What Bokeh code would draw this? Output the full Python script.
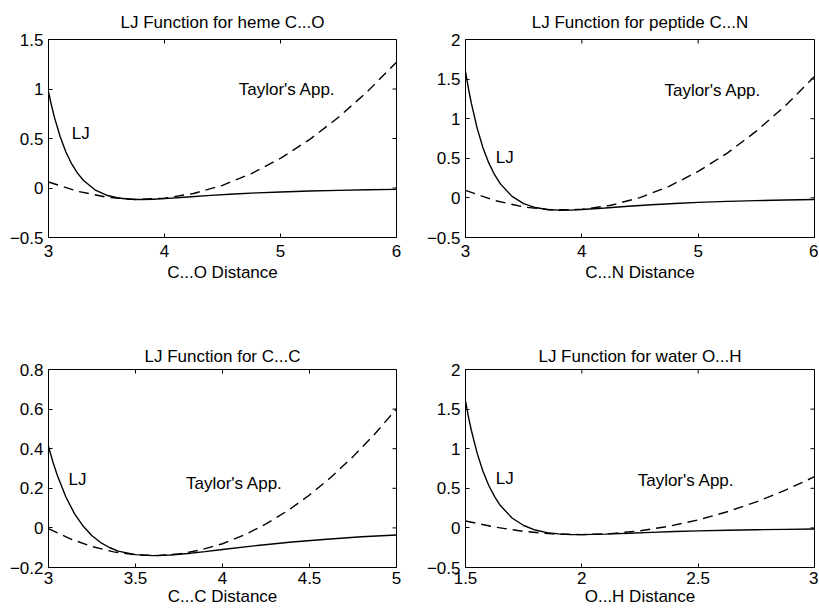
import math
from bokeh.plotting import figure
from bokeh.layouts import column, row
from bokeh.models import Range1d, FixedTicker
from bokeh.core.properties import value
from bokeh.embed import file_html
from bokeh.resources import INLINE

FONT = "Liberation Sans"
FS = "17px"

# ---------------- data ----------------
# heme C...O
heme_lj_x = [3.0, 3.025, 3.05, 3.1, 3.15, 3.2, 3.25, 3.3, 3.4, 3.5, 3.6, 3.7, 3.8, 3.9,
             4.0, 4.2, 4.4, 4.6, 4.8, 5.0, 5.25, 5.5, 5.75, 6.0]
heme_lj_y = [0.973, 0.838, 0.718, 0.520, 0.364, 0.243, 0.150, 0.078, -0.018, -0.073, -0.101,
             -0.113, -0.116, -0.113, -0.107, -0.091, -0.075, -0.061, -0.049, -0.040, -0.031,
             -0.024, -0.018, -0.014]
heme_tay_x = [3.0, 3.25, 3.5, 3.75, 4.0, 4.25, 4.5, 4.75, 5.0, 5.25, 5.5, 5.75, 6.0]
heme_tay_y = [0.061, -0.033, -0.092, -0.116, -0.103, -0.056, 0.027, 0.146, 0.300, 0.489,
              0.714, 0.975, 1.271]

# peptide C...N
pep_lj_x = [3.0, 3.025, 3.05, 3.1, 3.15, 3.2, 3.25, 3.3, 3.4, 3.5, 3.6, 3.7, 3.8, 3.9,
            4.0, 4.2, 4.4, 4.6, 4.8, 5.0, 5.25, 5.5, 5.75, 6.0]
pep_lj_y = [1.599, 1.384, 1.196, 0.881, 0.634, 0.442, 0.293, 0.177, 0.019, -0.072, -0.122,
            -0.146, -0.155, -0.154, -0.147, -0.128, -0.106, -0.087, -0.070, -0.057, -0.044,
            -0.034, -0.026, -0.020]
pep_tay_x = [3.0, 3.25, 3.5, 3.75, 4.0, 4.25, 4.5, 4.75, 5.0, 5.25, 5.5, 5.75, 6.0]
pep_tay_y = [0.096, -0.032, -0.115, -0.152, -0.145, -0.093, 0.004, 0.146, 0.334, 0.566,
             0.843, 1.165, 1.532]

# C...C
cc_lj_x = [3.0, 3.025, 3.05, 3.1, 3.15, 3.2, 3.25, 3.3, 3.35, 3.4, 3.5, 3.6, 3.7, 3.8, 3.9,
           4.0, 4.2, 4.4, 4.6, 4.8, 5.0]
cc_lj_y = [0.412, 0.334, 0.267, 0.156, 0.071, 0.008, -0.040, -0.074, -0.099, -0.117, -0.135,
           -0.140, -0.137, -0.129, -0.120, -0.109, -0.089, -0.071, -0.057, -0.045, -0.036]
cc_tay_x = [3.0, 3.125, 3.25, 3.375, 3.5, 3.625, 3.75, 3.875, 4.0, 4.125, 4.25, 4.375, 4.5,
            4.625, 4.75, 4.875, 5.0]
cc_tay_y = [-0.004, -0.055, -0.094, -0.121, -0.136, -0.140, -0.132, -0.111, -0.080, -0.036,
            0.020, 0.087, 0.166, 0.257, 0.360, 0.474, 0.601]

# water O...H
wat_lj_x = [1.5, 1.5125, 1.525, 1.55, 1.575, 1.6, 1.625, 1.65, 1.7, 1.75, 1.8, 1.85, 1.9, 1.95,
            2.0, 2.1, 2.2, 2.3, 2.4, 2.5, 2.625, 2.75, 2.875, 3.0]
wat_lj_y = [1.600, 1.405, 1.233, 0.944, 0.715, 0.536, 0.394, 0.282, 0.125, 0.030, -0.027,
            -0.059, -0.076, -0.084, -0.085, -0.079, -0.068, -0.056, -0.046, -0.038, -0.029,
            -0.023, -0.018, -0.014]
wat_tay_x = [1.5, 1.625, 1.75, 1.875, 2.0, 2.125, 2.25, 2.375, 2.5, 2.625, 2.75, 2.875, 3.0]
wat_tay_y = [0.087, 0.011, -0.044, -0.076, -0.085, -0.072, -0.037, 0.021, 0.101, 0.204,
             0.329, 0.477, 0.646]

# ticks
x_ticks_6 = [3, 4, 5, 6]
x_labels_6 = ["3", "4", "5", "6"]
x_ticks_5 = [3, 3.5, 4, 4.5, 5]
x_labels_5 = ["3", "3.5", "4", "4.5", "5"]
x_ticks_w = [1.5, 2, 2.5, 3]
x_labels_w = ["1.5", "2", "2.5", "3"]
y_ticks_15 = [-0.5, 0, 0.5, 1, 1.5]
y_labels_15 = ["\u22120.5", "0", "0.5", "1", "1.5"]
y_ticks_2 = [-0.5, 0, 0.5, 1, 1.5, 2]
y_labels_2 = ["\u22120.5", "0", "0.5", "1", "1.5", "2"]
y_ticks_08 = [-0.2, 0, 0.2, 0.4, 0.6, 0.8]
y_labels_08 = ["\u22120.2", "0", "0.2", "0.4", "0.6", "0.8"]


def style_axis(ax, ticks, labels):
    ax.ticker = FixedTicker(ticks=ticks)
    ax.major_label_overrides = dict(zip(ticks, labels))
    ax.major_tick_in = 4
    ax.major_tick_out = 0
    ax.minor_tick_in = 0
    ax.minor_tick_out = 0
    ax.axis_line_color = "black"
    ax.axis_line_width = 1
    ax.major_tick_line_color = "black"
    ax.major_label_text_font = FONT
    ax.major_label_text_color = "black"
    ax.major_label_text_font_size = FS


def make_panel(title, xlabel, lj_x, lj_y, tay_x, tay_y, xr, yr, xt, xtl, yt, ytl,
               lj_pos, tay_pos, width, height, borders, title_standoff,
               tick_standoff, xlab_standoff):
    p = figure(width=width, height=height, x_range=Range1d(*xr), y_range=Range1d(*yr),
               output_backend="svg", toolbar_location=None,
               min_border_left=borders[0], min_border_right=borders[1],
               min_border_top=borders[2], min_border_bottom=borders[3])
    p.xgrid.visible = False
    p.ygrid.visible = False
    p.outline_line_color = "black"
    p.outline_line_width = 1
    p.background_fill_color = "white"
    p.border_fill_color = "white"

    style_axis(p.xaxis[0], xt, xtl)
    style_axis(p.yaxis[0], yt, ytl)
    p.xaxis[0].major_label_standoff = tick_standoff
    p.xaxis[0].axis_label = xlabel
    p.xaxis[0].axis_label_text_font = FONT
    p.xaxis[0].axis_label_text_font_size = FS
    p.xaxis[0].axis_label_text_font_style = "normal"
    p.xaxis[0].axis_label_text_color = "black"
    p.xaxis[0].axis_label_standoff = xlab_standoff
    p.yaxis[0].major_label_standoff = 5

    # inward tick marks on the top and right edges of the box
    p.ray(x=xt, y=[yr[1]] * len(xt), length=4, length_units="screen",
          angle=-math.pi / 2, line_color="black", line_width=1)
    p.ray(x=[xr[1]] * len(yt), y=yt, length=4, length_units="screen",
          angle=math.pi, line_color="black", line_width=1)

    p.title.text = title
    p.title.align = "center"
    p.title.text_font = FONT
    p.title.text_font_size = FS
    p.title.text_font_style = "normal"
    p.title.text_color = "black"
    p.title.standoff = title_standoff

    p.line(lj_x, lj_y, line_color="black", line_width=1.4)
    p.line(tay_x, tay_y, line_color="black", line_width=1.4, line_dash="10 6")

    p.text(x=[lj_pos[0], tay_pos[0]], y=[lj_pos[1], tay_pos[1]],
           text=["LJ", "Taylor's App."], text_font=value(FONT), text_font_size=FS,
           text_baseline="middle", text_align="left", text_color="black")
    return p


p1 = make_panel("LJ Function for heme C...O", "C...O Distance",
                heme_lj_x, heme_lj_y, heme_tay_x, heme_tay_y,
                (3, 6), (-0.5, 1.5), x_ticks_6, x_labels_6, y_ticks_15, y_labels_15,
                (3.2, 0.55), (4.64, 1.0),
                417, 300, (48, 21, 39, 63), 15, 7, 3)
p2 = make_panel("LJ Function for peptide C...N", "C...N Distance",
                pep_lj_x, pep_lj_y, pep_tay_x, pep_tay_y,
                (3, 6), (-0.5, 2), x_ticks_6, x_labels_6, y_ticks_2, y_labels_2,
                (3.26, 0.515), (4.71, 1.357),
                401, 300, (48, 4, 39, 63), 15, 7, 3)
p3 = make_panel("LJ Function for C...C", "C...C Distance",
                cc_lj_x, cc_lj_y, cc_tay_x, cc_tay_y,
                (3, 5), (-0.2, 0.8), x_ticks_5, x_labels_5, y_ticks_08, y_labels_08,
                (3.115, 0.242), (3.79, 0.224),
                417, 310, (48, 21, 69, 43), 7, 4, 0)
p4 = make_panel("LJ Function for water O...H", "O...H Distance",
                wat_lj_x, wat_lj_y, wat_tay_x, wat_tay_y,
                (1.5, 3), (-0.5, 2), x_ticks_w, x_labels_w, y_ticks_2, y_labels_2,
                (1.63, 0.626), (2.24, 0.604),
                401, 310, (48, 4, 69, 43), 7, 4, 0)

layout = column(row(p1, p2), row(p3, p4))

with open("out.html", "w") as f:
    f.write(file_html(layout, INLINE))
